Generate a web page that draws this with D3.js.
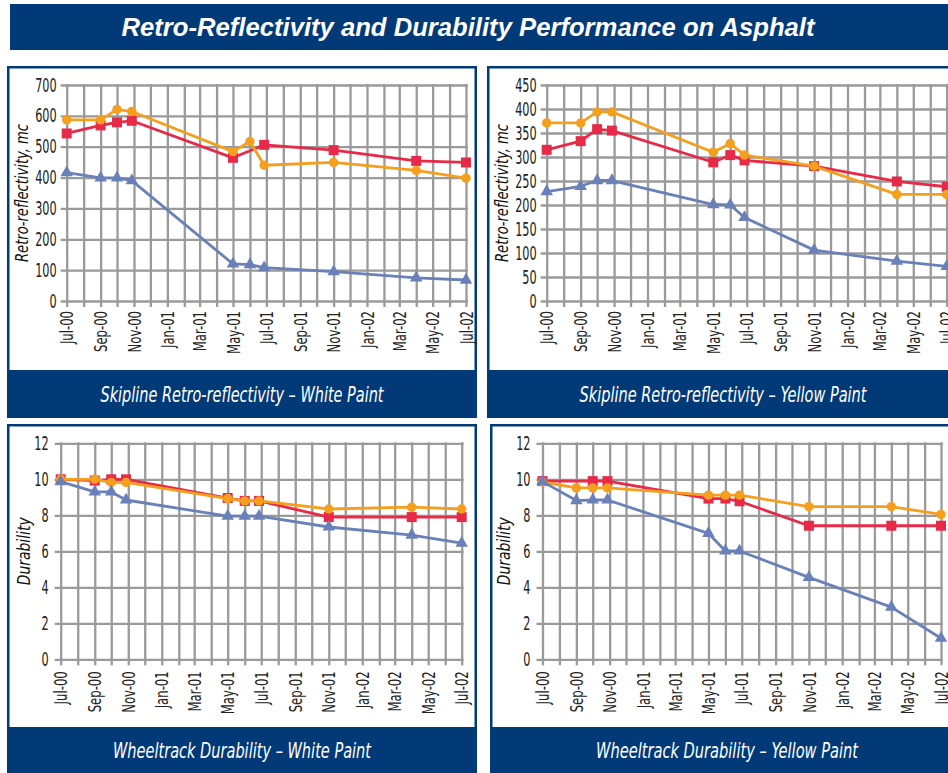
<!DOCTYPE html>
<html>
<head>
<meta charset="utf-8">
<script src="https://cdn.jsdelivr.net/npm/d3@7"></script>
<style>
  body { margin: 0; background: #fff; }
</style>
</head>
<body>
<script>
// ---- data ----
const chartTitle = "Retro-Reflectivity and Durability Performance on Asphalt";
const captions = [
  "Skipline Retro-reflectivity \u2013 White Paint",
  "Skipline Retro-reflectivity \u2013 Yellow Paint",
  "Wheeltrack Durability \u2013 White Paint",
  "Wheeltrack Durability \u2013 Yellow Paint"
];
const yTitles = ["Retro-reflectivity, mc", "Retro-reflectivity, mc", "Durability", "Durability"];
const yMaxes = [700, 450, 12, 12];
const ySteps = [100, 50, 2, 2];

// survey dates (shared by every series)
const surveyDates = ["2000-07-01", "2000-09-01", "2000-10-01", "2000-10-28", "2001-05-01",
                     "2001-06-01", "2001-06-27", "2001-11-01", "2002-04-01", "2002-07-01"];

// skipline retro-reflectivity, white paint
const whiteRetroOrange = [587, 587, 621, 614, 484, 517, 440, 449, 423, 398];
const whiteRetroRed    = [543, 569, 579, 584, 464, null, 506, 489, 454, 449];
const whiteRetroBlue   = [416, 399, 399, 390, 120, 118, 108, 95, 75, 68];

// skipline retro-reflectivity, yellow paint
const yellowRetroOrange = [371, 371, 394, 394, 310, 328, 304, 281, 222, 222];
const yellowRetroRed    = [315, 333, 358, 355, 289, 304, 293, 281, 249, 238];
const yellowRetroBlue   = [228, 239, 251, 251, 201, 200, 174, 106, 83, 72];

// wheeltrack durability, white paint
const whiteDurOrange = [10, 10, 9.83, 9.83, 8.93, 8.8, 8.8, 8.35, 8.45, 8.35];
const whiteDurRed    = [10, 9.93, 10, 10, 8.96, 8.8, 8.8, 7.9, 7.9, 7.9];
const whiteDurBlue   = [9.87, 9.3, 9.3, 8.85, 7.95, 7.95, 7.95, 7.35, 6.9, 6.45];

// wheeltrack durability, yellow paint
const yellowDurOrange = [9.85, 9.52, 9.52, 9.52, 9.12, 9.12, 9.12, 8.48, 8.48, 8.05];
const yellowDurRed    = [9.9, null, 9.9, 9.9, 8.93, 8.93, 8.78, 7.42, 7.42, 7.42];
const yellowDurBlue   = [9.87, 8.82, 8.85, 8.85, 7.0, 6.02, 6.02, 4.55, 2.9, 1.17];

const panelSeries = [
  [whiteRetroRed, whiteRetroOrange, whiteRetroBlue],
  [yellowRetroRed, yellowRetroOrange, yellowRetroBlue],
  [whiteDurRed, whiteDurOrange, whiteDurBlue],
  [yellowDurRed, yellowDurOrange, yellowDurBlue]
];

// ---- styles / layout ----
const navy = "#023a78";
const seriesColors = ["#e62a48", "#f59f1f", "#6a80b8"]; // red, orange, blue
const seriesSymbols = [d3.symbolSquare, d3.symbolCircle, d3.symbolTriangle];
const symbolSizes = [100, 70, 68];
const gridColor = "#9a9a9a";
const narrow = "'Liberation Sans Narrow', 'DejaVu Sans Condensed', 'Arial Narrow', sans-serif";

const W = 948, H = 773;
const layout = [
  { x: 7,   y: 66,  w: 470, h: 352, band: 48, left: 66.7,  right: 466,   top: 85,    bottom: 301,   titleX: 22, capW: 283 },
  { x: 487, y: 66,  w: 472, h: 352, band: 48, left: 546.7, right: 946.7, top: 85,    bottom: 301,   titleX: 502, capW: 287 },
  { x: 7,   y: 424, w: 470, h: 352, band: 46, left: 60.7,  right: 461.7, top: 443.3, bottom: 659.3, titleX: 24, capW: 258 },
  { x: 490, y: 424, w: 474, h: 352, band: 46, left: 542.5, right: 941,   top: 443.3, bottom: 659.3, titleX: 504, capW: 262 }
];

const parse = d3.timeParse("%Y-%m-%d");
const dates = surveyDates.map(parse);
const xStart = parse("2000-07-01"), xEnd = parse("2002-07-01");
const fmt = d3.timeFormat("%b-%y");

// squeeze a text horizontally to mimic the condensed face of the original
function squeeze(sel, k) {
  sel.each(function() {
    const len = this.getComputedTextLength();
    if (len > 0) d3.select(this).attr("textLength", len * k).attr("lengthAdjust", "spacingAndGlyphs");
  });
}

const svg = d3.select("body").append("svg")
    .attr("width", W)
    .attr("height", H)
    .style("display", "block");

svg.append("rect").attr("width", W).attr("height", H).attr("fill", "#fff");

// title bar
svg.append("rect")
    .attr("x", 10).attr("y", 4)
    .attr("width", 950).attr("height", 46)
    .attr("fill", navy);
svg.append("text")
    .attr("x", 468).attr("y", 36)
    .attr("text-anchor", "middle")
    .attr("fill", "#fff")
    .attr("font-family", "'Liberation Sans', Arial, sans-serif")
    .attr("font-weight", "bold")
    .attr("font-style", "italic")
    .attr("font-size", "25px")
    .attr("textLength", 693)
    .attr("lengthAdjust", "spacingAndGlyphs")
    .text(chartTitle);

layout.forEach((p, i) => {
  const g = svg.append("g");

  // panel frame and caption band
  g.append("rect")
      .attr("x", p.x + 1.25).attr("y", p.y + 1.25)
      .attr("width", p.w - 2.5).attr("height", p.h - 2.5)
      .attr("fill", "#fff")
      .attr("stroke", navy)
      .attr("stroke-width", 2.5);
  g.append("rect")
      .attr("x", p.x).attr("y", i < 2 ? p.y + p.h - p.band : 727)
      .attr("width", p.w).attr("height", i < 2 ? p.band : 60)
      .attr("fill", navy);
  const capMid = i < 2 ? p.y + p.h - p.band / 2 : 750;
  g.append("text")
      .attr("x", p.x + p.w / 2).attr("y", capMid + 8)
      .attr("text-anchor", "middle")
      .attr("fill", "#fff")
      .attr("font-family", narrow)
      .attr("font-style", "italic")
      .attr("font-size", "22px")
      .attr("textLength", p.capW)
      .attr("lengthAdjust", "spacingAndGlyphs")
      .text(captions[i]);

  // scales
  const x = d3.scaleTime().domain([xStart, xEnd]).range([p.left, p.right]);
  const y = d3.scaleLinear().domain([0, yMaxes[i]]).range([p.bottom, p.top]);
  const yTicks = d3.range(0, yMaxes[i] + ySteps[i] / 2, ySteps[i]);

  // x axis with monthly vertical grid lines, labels every two months
  const xAxis = g.append("g")
      .attr("transform", `translate(0,${p.bottom})`)
      .call(d3.axisBottom(x)
        .ticks(d3.timeMonth.every(1))
        .tickSize(0)
        .tickFormat(d => (d.getMonth() % 2 === 0 ? fmt(d) : "")));
  xAxis.select(".domain").remove();
  xAxis.selectAll(".tick line")
      .attr("y1", 6).attr("y2", p.top - p.bottom - 1)
      .attr("stroke", gridColor).attr("stroke-width", 2.3);
  xAxis.selectAll(".tick text")
      .attr("font-family", narrow)
      .attr("font-size", "18px")
      .attr("fill", "#222")
      .attr("text-anchor", "end")
      .attr("transform", "rotate(-90)")
      .attr("x", i < 2 ? -10 : -12)
      .attr("y", 0)
      .attr("dy", "0.34em")
      .call(squeeze, 0.72);

  // y axis with horizontal grid lines
  const yAxis = g.append("g")
      .attr("transform", `translate(${p.left},0)`)
      .call(d3.axisLeft(y).tickValues(yTicks).tickSize(0).tickPadding(i < 2 ? 10 : 12));
  yAxis.select(".domain").remove();
  yAxis.selectAll(".tick line")
      .attr("x1", -6).attr("x2", p.right - p.left + 2)
      .attr("stroke", gridColor).attr("stroke-width", 2.3);
  yAxis.selectAll(".tick text")
      .attr("font-family", narrow)
      .attr("font-size", "19px")
      .attr("fill", "#222")
      .call(squeeze, 0.66);

  // y axis title
  g.append("text")
      .attr("transform", `translate(${p.titleX},${(p.top + p.bottom) / 2}) rotate(-90)`)
      .attr("text-anchor", "middle")
      .attr("dy", "0.35em")
      .attr("font-family", narrow)
      .attr("font-style", "italic")
      .attr("font-size", "18px")
      .attr("fill", "#111")
      .attr("textLength", i < 2 ? 138 : 68)
      .attr("lengthAdjust", "spacingAndGlyphs")
      .text(yTitles[i]);

  // series: red squares, orange circles, blue triangles (blue on top)
  const line = d3.line().x(d => x(d.date)).y(d => y(d.value));
  panelSeries[i].forEach((vals, s) => {
    const pts = vals.map((v, k) => ({ date: dates[k], value: v })).filter(d => d.value != null);
    g.append("path")
        .datum(pts)
        .attr("fill", "none")
        .attr("stroke", seriesColors[s])
        .attr("stroke-width", 2.8)
        .attr("stroke-linejoin", "round")
        .attr("d", line);
    g.selectAll(null)
        .data(pts)
        .join("path")
        .attr("transform", d => `translate(${x(d.date)},${y(d.value)})`)
        .attr("d", d3.symbol().type(seriesSymbols[s]).size(symbolSizes[s]))
        .attr("fill", seriesColors[s]);
  });
});
</script>
</body>
</html>
